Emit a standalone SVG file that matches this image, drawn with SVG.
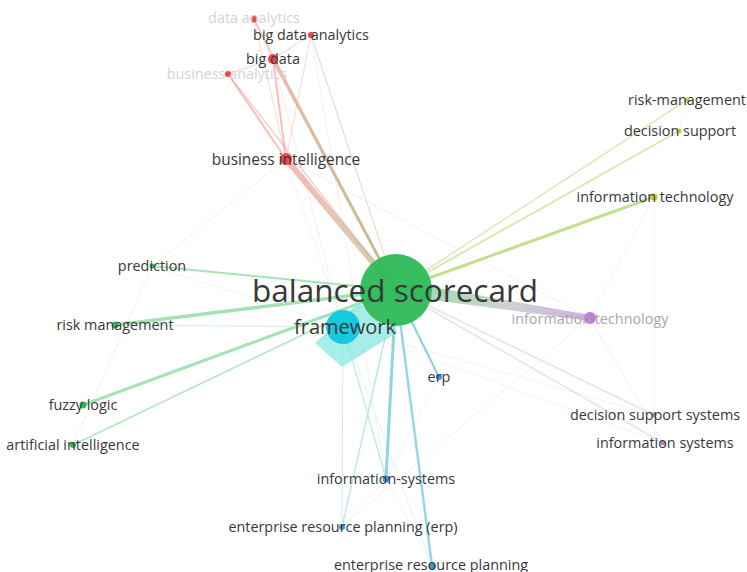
<svg xmlns="http://www.w3.org/2000/svg" width="747" height="572" viewBox="0 0 747 572">
<style>
text{font-family:"Open Sans","Noto Sans","Liberation Sans",sans-serif;fill:#383838;text-anchor:middle}
.l{font-size:14.4px}
.m{font-size:15.4px}
.f{fill:#d4d4d4}
.g{fill:#a8a8a8}
.e line{stroke-linecap:round}
.r{fill:#f04448}.gr{fill:#2dbb57}.c{fill:#16c9de}.b{fill:#3b9bd8}.y{fill:#d2c72a}.p{fill:#bb80dc}
</style>
<defs>
<linearGradient id="gBI" gradientUnits="userSpaceOnUse" x1="286" y1="159" x2="396" y2="290"><stop offset="0" stop-color="#f08a86"/><stop offset="1" stop-color="#a8b878"/></linearGradient>
<linearGradient id="gBD" gradientUnits="userSpaceOnUse" x1="273" y1="59" x2="396" y2="290"><stop offset="0" stop-color="#e89a80"/><stop offset="1" stop-color="#a0b068"/></linearGradient>
<linearGradient id="gIT" gradientUnits="userSpaceOnUse" x1="420" y1="292" x2="590" y2="318"><stop offset="0" stop-color="#8ed4a0"/><stop offset="0.5" stop-color="#c4ccc8"/><stop offset="1" stop-color="#c8a0e0"/></linearGradient>
</defs>
<rect width="747" height="572" fill="#fff"/>
<g id="connectors" class="e" fill="none">
<g stroke-width="1" opacity="0.35">
<line x1="286" y1="159" x2="152" y2="266" stroke="#f3c9c9"/>
<line x1="152" y1="266" x2="73" y2="445" stroke="#d8d8d8"/>
<line x1="286" y1="159" x2="590" y2="318" stroke="#e6d2e6"/>
<line x1="654" y1="197" x2="590" y2="318" stroke="#e8e6c8"/>
<line x1="590" y1="318" x2="663" y2="443" stroke="#e0d0ea"/>
<line x1="590" y1="318" x2="342" y2="527" stroke="#d8d8ea"/>
<line x1="439" y1="377" x2="386" y2="479" stroke="#c8e4f2"/>
<line x1="386" y1="479" x2="432" y2="566" stroke="#c8e4f2"/>
<line x1="386" y1="479" x2="342" y2="527" stroke="#c8e4f2"/>
<line x1="343" y1="327" x2="432" y2="566" stroke="#a8dff0"/>
<line x1="343" y1="327" x2="663" y2="443" stroke="#c8e8ee"/>
<line x1="343" y1="327" x2="654" y2="415" stroke="#c8e8ee"/>
<line x1="343" y1="327" x2="152" y2="266" stroke="#c8ecdc"/>
<line x1="343" y1="327" x2="286" y2="159" stroke="#c8e8f0"/>
<line x1="343" y1="327" x2="273" y2="59" stroke="#f0c8c8"/>
<line x1="654" y1="197" x2="654" y2="415" stroke="#e4e4ec"/>
<line x1="687" y1="100" x2="679" y2="131" stroke="#eeeac8"/>
<line x1="311" y1="35" x2="386" y2="479" stroke="#ecd2d6"/>
</g>
<line x1="273" y1="59" x2="286" y2="159" stroke="#f28a8a" stroke-width="2" opacity="0.55"/>
<line x1="228" y1="74" x2="286" y2="159" stroke="#f28a8a" stroke-width="2" opacity="0.55"/>
<line x1="228" y1="74" x2="273" y2="59" stroke="#f4a0a0" stroke-width="1" opacity="0.5"/>
<line x1="254" y1="19" x2="273" y2="59" stroke="#f4a0a0" stroke-width="1.5" opacity="0.5"/>
<line x1="311" y1="35" x2="273" y2="59" stroke="#f4a0a0" stroke-width="1" opacity="0.5"/>
<line x1="311" y1="35" x2="286" y2="159" stroke="#f4a0a0" stroke-width="1" opacity="0.45"/>
<line x1="254" y1="19" x2="286" y2="159" stroke="#f4a0a0" stroke-width="1" opacity="0.4"/>
<line x1="254" y1="19" x2="396" y2="290" stroke="#e0b0a8" stroke-width="1.5" opacity="0.45"/>
<line x1="311" y1="35" x2="396" y2="290" stroke="#d8b0a0" stroke-width="1" opacity="0.55"/>
<line x1="228" y1="74" x2="396" y2="290" stroke="#e0a898" stroke-width="1.5" opacity="0.5"/>
<line x1="273" y1="59" x2="396" y2="290" stroke="url(#gBD)" stroke-width="3" opacity="0.7"/>
<line x1="286" y1="159" x2="396" y2="290" stroke="url(#gBI)" stroke-width="6" opacity="0.6"/>
<line x1="687" y1="100" x2="396" y2="290" stroke="#cde09a" stroke-width="1.5" opacity="0.7"/>
<line x1="679" y1="131" x2="396" y2="290" stroke="#c8df90" stroke-width="2" opacity="0.7"/>
<line x1="654" y1="197" x2="396" y2="290" stroke="#b4d874" stroke-width="3" opacity="0.8"/>
<polygon points="410,283 590,315 590,321 410,297" fill="url(#gIT)" opacity="0.85"/>
<line x1="654" y1="415" x2="396" y2="290" stroke="#d0d0dc" stroke-width="1.5" opacity="0.6"/>
<line x1="663" y1="443" x2="396" y2="290" stroke="#d4d0e0" stroke-width="1.5" opacity="0.6"/>
<line x1="152" y1="266" x2="396" y2="290" stroke="#9ee0b0" stroke-width="2" opacity="0.9"/>
<line x1="115" y1="325" x2="396" y2="290" stroke="#9ae0ac" stroke-width="3.5" opacity="0.9"/>
<line x1="83" y1="405" x2="396" y2="290" stroke="#9ae0ac" stroke-width="3" opacity="0.9"/>
<line x1="73" y1="445" x2="396" y2="290" stroke="#a8e4b8" stroke-width="1.5" opacity="0.9"/>
<line x1="115" y1="325" x2="343" y2="327" stroke="#c8ecd6" stroke-width="1" opacity="0.8"/>
<line x1="439" y1="377" x2="396" y2="290" stroke="#7ec6e6" stroke-width="2" opacity="0.9"/>
<line x1="386" y1="479" x2="396" y2="290" stroke="#84d0d8" stroke-width="3" opacity="0.9"/>
<line x1="432" y1="566" x2="396" y2="290" stroke="#90d2e4" stroke-width="2.5" opacity="0.9"/>
<line x1="342" y1="527" x2="396" y2="290" stroke="#a8dcec" stroke-width="1.2" opacity="0.9"/>
<line x1="386" y1="479" x2="343" y2="327" stroke="#a8e0ea" stroke-width="1.2" opacity="0.8"/>
<line x1="342" y1="527" x2="343" y2="327" stroke="#c0e6ee" stroke-width="1" opacity="0.8"/>
</g>
<g id="framework-area"><polygon points="315,343 358,303 398,332 342,367" fill="#8ae8e0" opacity="0.75"/></g>
<g id="n-bs"><circle cx="396" cy="290" r="36" class="gr" opacity="0.95"/></g>
<g id="n-framework"><circle cx="343" cy="327" r="17" class="c"/></g>
<g id="n-data-analytics"><circle cx="254" cy="19" r="3.5" class="r"/><text class="l f" x="254" y="23">data analytics</text></g>
<g id="n-big-data-analytics"><circle cx="311" cy="35" r="3" class="r"/><text class="l" x="311" y="40">big data analytics</text></g>
<g id="n-big-data"><circle cx="273" cy="59" r="5" class="r"/><text class="l" x="273" y="64">big data</text></g>
<g id="n-business-analytics"><circle cx="228" cy="74" r="3" class="r"/><text class="l f" x="227" y="79">business analytics</text></g>
<g id="n-business-intelligence"><circle cx="286" cy="159" r="6" class="r"/><text class="m" x="286" y="165">business intelligence</text></g>
<g id="n-risk-management-y"><circle cx="687" cy="100" r="2.5" class="y"/><text class="l" x="687" y="105">risk-management</text></g>
<g id="n-decision-support"><circle cx="679" cy="131" r="2.5" class="y"/><text class="l" x="680" y="136">decision support</text></g>
<g id="n-it-y"><circle cx="654" cy="197" r="3.5" class="y"/><text class="l" x="655" y="202">information technology</text></g>
<g id="n-it-p"><circle cx="590" cy="318" r="6" class="p"/><text class="l g" x="590" y="324">information technology</text></g>
<g id="n-prediction"><circle cx="152" cy="266" r="2.5" class="gr"/><text class="l" x="152" y="271">prediction</text></g>
<g id="n-risk-management"><circle cx="115" cy="325" r="3.5" class="gr"/><text class="l" x="115" y="330">risk management</text></g>
<g id="n-fuzzy-logic"><circle cx="83" cy="405" r="3.5" class="gr"/><text class="l" x="83" y="410">fuzzy logic</text></g>
<g id="n-ai"><circle cx="73" cy="445" r="3" class="gr"/><text class="l" x="73" y="450">artificial intelligence</text></g>
<g id="n-erp"><circle cx="439" cy="377" r="3" class="b"/><text class="l" x="439" y="382">erp</text></g>
<g id="n-dss"><circle cx="654" cy="415" r="2.5" class="p"/><text class="l" x="655" y="420">decision support systems</text></g>
<g id="n-is"><circle cx="663" cy="443" r="2.5" class="p"/><text class="l" x="665" y="448">information systems</text></g>
<g id="n-information-systems"><circle cx="386" cy="479" r="3.5" class="b"/><text class="l" x="386" y="484">information-systems</text></g>
<g id="n-erp-erp"><circle cx="342" cy="527" r="3" class="b"/><text class="l" x="343" y="532">enterprise resource planning (erp)</text></g>
<g id="n-enterprise-rp"><circle cx="432" cy="566" r="3.5" class="b"/><text class="l" x="431" y="570">enterprise resource planning</text></g>
<text x="395" y="302" style="font-size:31.5px">balanced scorecard</text>
<text x="345" y="334" style="font-size:20px">framework</text>
</svg>
